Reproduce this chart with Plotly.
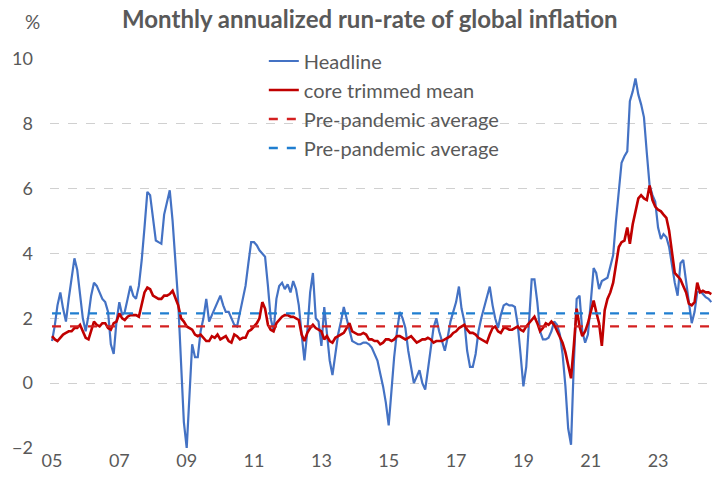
import pandas as pd
import plotly.graph_objects as go

# ---------------- data ----------------
start_month = "2005-01-01"

headline = [
    1.3, 1.8, 2.4, 2.8, 2.3, 1.9, 2.6, 3.2, 3.85, 3.5, 2.7, 2.0,      # 2005
    1.6, 2.1, 2.7, 3.1, 3.0, 2.8, 2.6, 2.5, 2.2, 1.2, 0.9, 1.9,       # 2006
    2.5, 2.1, 2.2, 2.6, 3.0, 2.7, 2.6, 3.0, 3.8, 4.8, 5.9, 5.8,       # 2007
    5.0, 4.4, 4.35, 4.3, 5.2, 5.6, 5.95, 5.0, 3.6, 2.5, 0.6, -1.2,    # 2008
    -2.0, -0.5, 1.2, 0.8, 0.8, 1.6, 2.0, 2.6, 1.9, 2.1, 2.3, 2.5,     # 2009
    2.7, 2.4, 2.2, 2.2, 2.0, 1.8, 1.75, 2.2, 2.6, 3.0, 3.7, 4.35,     # 2010
    4.35, 4.25, 4.1, 4.0, 3.9, 3.0, 2.0, 1.6, 2.6, 3.0, 3.1, 2.9,     # 2011
    3.05, 2.8, 3.15, 2.9, 2.4, 1.5, 0.7, 1.6, 2.8, 3.4, 2.0, 1.9,     # 2012
    1.15, 2.35, 1.5, 0.7, 0.25, 0.9, 1.5, 1.9, 2.35, 2.0, 1.6, 1.3,   # 2013
    1.25, 1.2, 1.2, 1.25, 1.25, 1.2, 1.1, 0.9, 0.7, 0.3, -0.1, -0.6,  # 2014
    -1.3, -0.2, 0.8, 1.6, 2.2, 2.0, 1.7, 1.0, 0.5, 0.0, 0.2, 0.4,     # 2015
    0.0, -0.2, 0.4, 1.1, 1.7, 2.0, 1.6, 1.3, 1.0, 1.4, 1.9, 2.2,      # 2016
    2.5, 2.98, 2.3, 1.9, 1.0, 0.5, 0.5, 0.9, 1.6, 2.0, 2.35, 2.6,     # 2017
    2.98, 2.4, 2.0, 1.7, 2.1, 2.4, 2.45, 2.4, 2.4, 2.35, 1.8, 0.9,    # 2018
    -0.1, 0.5, 1.8, 3.2, 3.2, 2.5, 1.6, 1.35, 1.35, 1.4, 1.6, 1.9,    # 2019
    1.8, 1.5, 0.9, -0.1, -1.4, -1.9, 0.6, 2.6, 2.7, 1.6, 1.25, 1.5,   # 2020
    2.5, 3.55, 3.4, 2.9, 3.15, 3.2, 3.25, 3.6, 3.95, 5.0, 6.0, 6.8,   # 2021
    7.0, 7.15, 8.7, 9.0, 9.4, 8.9, 8.6, 8.2, 7.1, 6.1, 5.8, 5.6,      # 2022
    4.8, 4.45, 4.6, 4.5, 4.2, 3.6, 3.1, 2.7, 3.7, 3.8, 3.2, 2.5,      # 2023
    1.85, 2.2, 2.8, 2.85, 2.75, 2.65, 2.6, 2.5,                       # 2024
]

core_trimmed_mean = [
    1.45, 1.35, 1.3, 1.4, 1.5, 1.55, 1.6, 1.6, 1.7, 1.7, 1.8, 1.6,    # 2005
    1.4, 1.35, 1.6, 1.9, 1.8, 1.75, 1.85, 1.85, 1.7, 1.65, 1.85, 1.9, # 2006
    2.15, 2.0, 1.95, 2.05, 2.1, 2.1, 2.1, 2.05, 2.4, 2.8, 2.95, 2.9,  # 2007
    2.7, 2.65, 2.6, 2.6, 2.7, 2.7, 2.75, 2.85, 2.6, 2.4, 2.0, 1.9,    # 2008
    1.75, 1.7, 1.65, 1.5, 1.45, 1.5, 1.4, 1.3, 1.3, 1.45, 1.4, 1.5,   # 2009
    1.35, 1.4, 1.45, 1.3, 1.25, 1.5, 1.45, 1.35, 1.4, 1.4, 1.6, 1.65, # 2010
    1.75, 1.85, 2.0, 2.5, 2.3, 1.8, 1.65, 1.6, 1.85, 1.95, 2.05, 2.1, # 2011
    2.1, 2.05, 2.05, 2.0, 1.95, 1.5, 1.3, 1.55, 1.7, 1.8, 1.7, 1.65,  # 2012
    1.6, 1.35, 1.45, 1.3, 1.25, 1.4, 1.45, 1.5, 1.55, 1.7, 1.85, 1.6, # 2013
    1.55, 1.5, 1.5, 1.55, 1.5, 1.35, 1.35, 1.3, 1.3, 1.2, 1.25, 1.35, # 2014
    1.35, 1.3, 1.35, 1.45, 1.45, 1.4, 1.35, 1.4, 1.45, 1.35, 1.25, 1.3,   # 2015
    1.35, 1.35, 1.4, 1.35, 1.25, 1.3, 1.3, 1.3, 1.35, 1.4, 1.45, 1.55,    # 2016
    1.6, 1.7, 1.75, 1.8, 1.65, 1.55, 1.55, 1.5, 1.4, 1.35, 1.3, 1.25,     # 2017
    1.5, 1.7, 1.75, 1.6, 1.55, 1.7, 1.7, 1.65, 1.65, 1.7, 1.75, 1.65,     # 2018
    1.6, 1.75, 1.85, 1.95, 2.05, 1.85, 1.6, 1.7, 1.85, 1.8, 1.9, 1.8,     # 2019
    1.6, 1.45, 1.25, 0.95, 0.55, 0.15, 1.15, 2.3, 1.75, 1.45, 1.6, 1.85,  # 2020
    2.2, 2.55, 2.2, 1.85, 1.15, 2.25, 2.6, 2.8, 3.1, 3.6, 4.2, 4.35,      # 2021
    4.4, 4.8, 4.3, 4.9, 5.3, 5.7, 5.8, 5.7, 5.65, 6.1, 5.65, 5.45,        # 2022
    5.35, 5.3, 5.2, 5.1, 4.7, 4.0, 3.4, 3.3, 3.2, 3.0, 2.8, 2.45,         # 2023
    2.4, 2.5, 3.1, 2.8, 2.85, 2.8, 2.8, 2.75,                             # 2024
]

core_pre_pandemic_avg = 1.75
headline_pre_pandemic_avg = 2.15

tick_dates = ["2005-01-01", "2007-01-01", "2009-01-01", "2011-01-01", "2013-01-01",
              "2015-01-01", "2017-01-01", "2019-01-01", "2021-01-01", "2023-01-01"]
tick_labels = ["05", "07", "09", "11", "13", "15", "17", "19", "21", "23"]
y_ticks = [-2, 0, 2, 4, 6, 8, 10]

series_names = ["Headline", "core trimmed mean", "Pre-pandemic average", "Pre-pandemic average"]
title_text = "Monthly annualized run-rate of global inflation"

# ---------------- figure ----------------
dates = pd.date_range(start_month, periods=len(headline), freq="MS")
span = [dates[0], dates[-1]]

BLUE = "#4472C4"
RED = "#C00000"
GREY = "#595959"
FONT = "Lato"

fig = go.Figure()
fig.add_trace(go.Scatter(x=dates, y=headline, mode="lines", name=series_names[0],
                         line=dict(color=BLUE, width=2.2)))
fig.add_trace(go.Scatter(x=dates, y=core_trimmed_mean, mode="lines", name=series_names[1],
                         line=dict(color=RED, width=2.6)))
fig.add_trace(go.Scatter(x=span, y=[core_pre_pandemic_avg] * 2, mode="lines", name=series_names[2],
                         line=dict(color="#D42020", width=2.3, dash="dash")))
fig.add_trace(go.Scatter(x=span, y=[headline_pre_pandemic_avg] * 2, mode="lines", name=series_names[3],
                         line=dict(color="#1F7ED0", width=2.3, dash="dash")))

fig.update_layout(
    width=712, height=489,
    margin=dict(l=50, r=0, t=59, b=41),
    paper_bgcolor="white", plot_bgcolor="white",
    font=dict(family=FONT, size=18, color=GREY),
    showlegend=True,
    legend=dict(x=0.323, y=1.045, xanchor="left", yanchor="top",
                bgcolor="rgba(0,0,0,0)", font=dict(size=20, color=GREY),
                itemwidth=30),
    annotations=[
        dict(text="<b>" + title_text + "</b>", x=0.483, y=1.0, xref="paper", yref="paper",
             xanchor="center", yanchor="bottom", yshift=24, showarrow=False,
             font=dict(size=24, color=GREY, family=FONT)),
        dict(text="%", x=-0.026, y=1.0, xref="paper", yref="paper",
             xanchor="center", yanchor="bottom", yshift=24, showarrow=False,
             font=dict(size=19, color=GREY)),
    ],
)

fig.update_xaxes(
    range=["2004-12-10", "2024-08-08"],
    tickvals=tick_dates, ticktext=tick_labels,
    showgrid=False, zeroline=False, showline=False, ticks="",
    tickfont=dict(size=18, color=GREY),
)
fig.update_yaxes(
    range=[-2, 10], tickvals=y_ticks,
    showgrid=True, gridcolor="#D0D0D0", griddash="dash", gridwidth=1,
    zeroline=False, showline=False, ticks="",
    ticklabelstandoff=16,
    tickfont=dict(size=18, color=GREY),
)

fig.write_html("out.html", config={"displayModeBar": False},
               post_script="document.body.style.margin='0';document.body.style.overflow='hidden';")
